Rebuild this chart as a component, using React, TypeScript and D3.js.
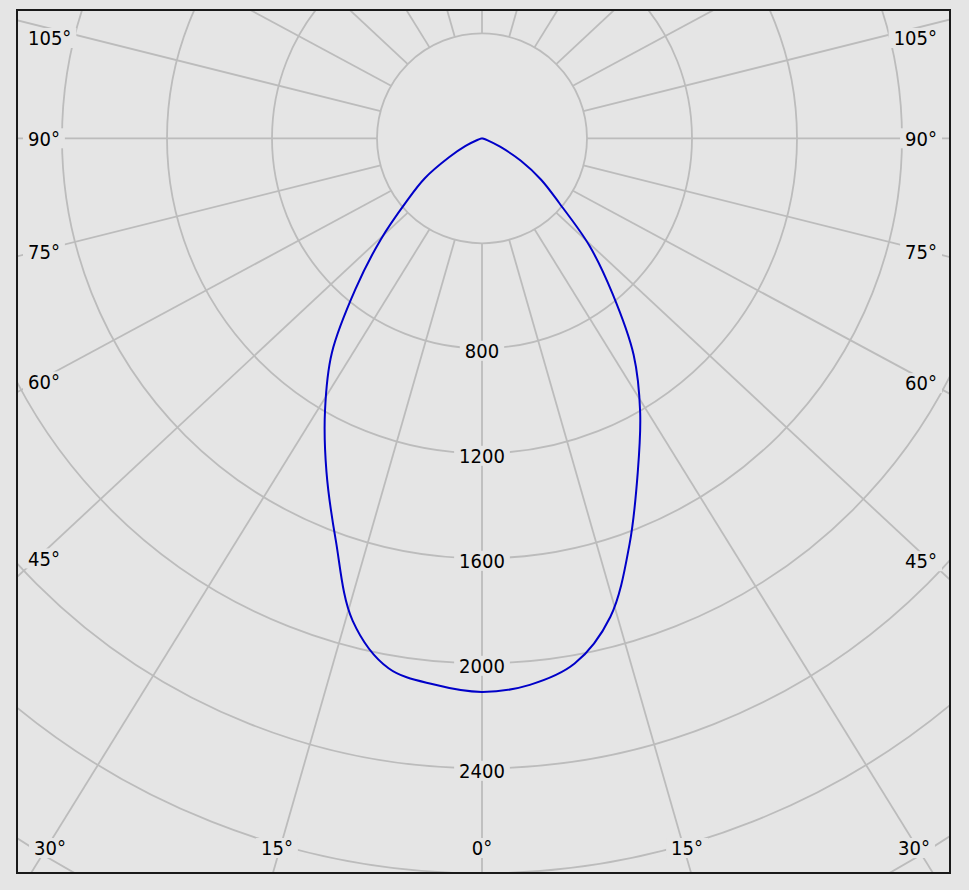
import React, { useEffect, useRef } from "react";
import * as d3 from "d3";

const W = 969;
const H = 890;

// gamma angles (degrees from nadir)
const gammaAngles = [0, 5, 10, 15, 20, 25, 30, 35, 40, 45, 50, 55, 60, 65, 70, 75];
// intensity (cd) - left half of the plane
const leftHalf = [2109, 2089, 2050, 1903, 1629, 1402, 1196, 997, 750, 546, 377, 267, 145, 69, 19, 0];
// intensity (cd) - right half of the plane
const rightHalf = [2109, 2090, 2032, 1888, 1644, 1404, 1205, 1007, 774, 579, 385, 275, 171, 76, 23, 0];

const ringValues = [400, 800, 1200, 1600, 2000, 2400, 2800, 3200];
const ringLabelValues = [800, 1200, 1600, 2000, 2400];
const spokeAngles = d3.range(0, 360, 15);
const angleLabelValues = [0, 15, 30, 45, 60, 75, 90, 105];

export default function App() {
  const ref = useRef<SVGSVGElement>(null);

  useEffect(() => {
    const svg = d3.select(ref.current);
    svg.selectAll("*").remove();

    const cx = 482;
    const cy = 138.3;
    const fr = { x0: 17, y0: 10, x1: 950, y1: 873 };
    const bg = "#e5e5e5";
    const gridColor = "#bcbcbc";
    const k = 1.072;
    const fontFamily = "'DejaVu Sans Condensed', 'Liberation Sans', sans-serif";

    const r = d3.scaleLinear().domain([0, 400]).range([0, 105]);
    const r0 = r(ringValues[0]);

    svg.append("rect").attr("width", W).attr("height", H).attr("fill", bg);

    svg
      .append("defs")
      .append("clipPath")
      .attr("id", "plotClip")
      .append("rect")
      .attr("x", fr.x0)
      .attr("y", fr.y0)
      .attr("width", fr.x1 - fr.x0)
      .attr("height", fr.y1 - fr.y0);

    const g = svg.append("g").attr("clip-path", "url(#plotClip)");

    // rings
    g.selectAll("circle.ring")
      .data(ringValues)
      .join("circle")
      .attr("class", "ring")
      .attr("cx", cx)
      .attr("cy", cy)
      .attr("r", (d) => r(d))
      .attr("fill", "none")
      .attr("stroke", gridColor)
      .attr("stroke-width", 1.8);

    // spokes
    const spokeGeom = (theta: number, side: number) => {
      const a = (theta * Math.PI) / 180;
      const s = Math.sin(a);
      const c = Math.cos(a);
      const p0 = [cx + side * r0 * s, cy + r0 * c];
      const d = [side * k * s, c];
      return { p0, d };
    };

    g.selectAll("line.spoke")
      .data(spokeAngles)
      .join("line")
      .attr("class", "spoke")
      .each(function (theta) {
        const { p0, d } = spokeGeom(theta, 1);
        d3.select(this)
          .attr("x1", p0[0])
          .attr("y1", p0[1])
          .attr("x2", p0[0] + 3000 * d[0])
          .attr("y2", p0[1] + 3000 * d[1]);
      })
      .attr("stroke", gridColor)
      .attr("stroke-width", 1.8);

    const labelLayer = svg.append("g");

    const addLabel = (text: string, x: number, yCenter: number, anchor: string) => {
      const grp = labelLayer.append("g");
      const rect = grp.append("rect").attr("fill", bg);
      const t = grp
        .append("text")
        .attr("x", x)
        .attr("y", yCenter + 7.3)
        .attr("text-anchor", anchor)
        .attr("font-family", fontFamily)
        .attr("font-size", 20)
        .attr("fill", "#000")
        .text(text);
      const bb = (t.node() as SVGTextElement).getBBox();
      rect
        .attr("x", bb.x - 5)
        .attr("y", yCenter - 10)
        .attr("width", bb.width + 10)
        .attr("height", 20);
    };

    // ring labels
    ringLabelValues.forEach((v) => {
      addLabel(String(v), cx, cy + r(v) + 2.5, "middle");
    });

    // angle labels
    const box = { x0: fr.x0 + 20, x1: fr.x1 - 20, y0: fr.y0 + 14, y1: fr.y1 - 14 };
    const placeAngle = (theta: number, side: number) => {
      const { p0, d } = spokeGeom(theta, side);
      const hits: { t: number; edge: string }[] = [];
      if (d[0] < -1e-9) hits.push({ t: (box.x0 - p0[0]) / d[0], edge: "left" });
      if (d[0] > 1e-9) hits.push({ t: (box.x1 - p0[0]) / d[0], edge: "right" });
      if (d[1] > 1e-9) hits.push({ t: (box.y1 - p0[1]) / d[1], edge: "bottom" });
      if (d[1] < -1e-9) hits.push({ t: (box.y0 - p0[1]) / d[1], edge: "top" });
      const best = hits.filter((h) => h.t > 0).sort((a, b) => a.t - b.t)[0];
      const hx = p0[0] + best.t * d[0];
      const hy = p0[1] + best.t * d[1];
      const label = `${theta}°`;
      if (best.edge === "bottom") {
        addLabel(label, Math.max(50, Math.min(914, hx)), 848, "middle");
      } else {
        const y = Math.max(38, Math.min(848, hy));
        if (side < 0) addLabel(label, 28, y, "start");
        else addLabel(label, 937, y, "end");
      }
    };
    angleLabelValues.forEach((theta) => {
      if (theta === 0) {
        placeAngle(0, 1);
      } else {
        placeAngle(theta, -1);
        placeAngle(theta, 1);
      }
    });

    // intensity curve (true polar, 0° pointing down)
    const pts: [number, number][] = [];
    for (let i = gammaAngles.length - 1; i >= 0; i--) {
      pts.push([Math.PI + (gammaAngles[i] * Math.PI) / 180, r(leftHalf[i])]);
    }
    for (let i = 1; i < gammaAngles.length; i++) {
      pts.push([Math.PI - (gammaAngles[i] * Math.PI) / 180, r(rightHalf[i])]);
    }
    const line = d3
      .lineRadial<[number, number]>()
      .angle((d) => d[0])
      .radius((d) => d[1])
      .curve(d3.curveCatmullRom.alpha(0.5));

    svg
      .append("path")
      .attr("transform", `translate(${cx},${cy})`)
      .attr("d", line(pts))
      .attr("fill", "none")
      .attr("stroke", "#0000c8")
      .attr("stroke-width", 2);

    // frame
    svg
      .append("rect")
      .attr("x", fr.x0)
      .attr("y", fr.y0)
      .attr("width", fr.x1 - fr.x0)
      .attr("height", fr.y1 - fr.y0)
      .attr("fill", "none")
      .attr("stroke", "#1a1a1a")
      .attr("stroke-width", 2);
  }, []);

  return (
    <svg
      ref={ref}
      width={W}
      height={H}
      style={{ position: "absolute", left: 0, top: 0, display: "block" }}
    />
  );
}
